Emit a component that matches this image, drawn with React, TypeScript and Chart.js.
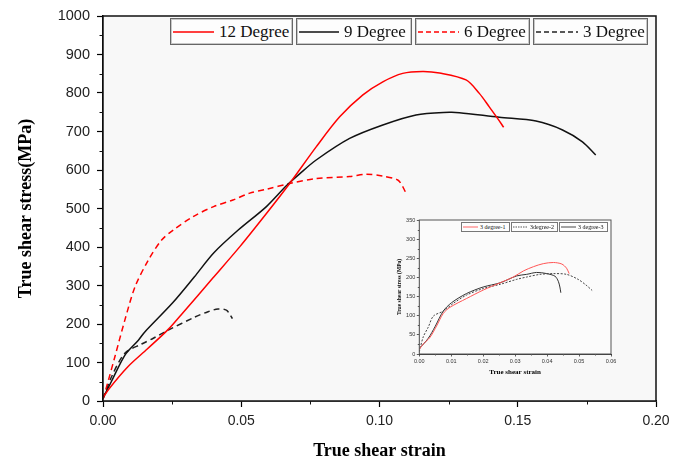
import React, { useEffect, useRef } from "react";
import { Chart, registerables } from "chart.js";

Chart.register(...registerables);

// ---------- main chart data ----------
const seriesNames = ["12 Degree", "9 Degree", "6 Degree", "3 Degree"];

const deg12Strain = [0, 0.002, 0.009, 0.016, 0.0236, 0.029, 0.0398, 0.0495, 0.0591, 0.0675, 0.0771, 0.0856, 0.094, 0.1012, 0.1084, 0.1156, 0.1217, 0.1313, 0.1361, 0.1397, 0.1427, 0.1449];
const deg12Stress = [8, 30, 89, 135, 186, 230, 320, 401, 487, 565, 660, 738, 795, 829, 851, 856, 852, 834, 799, 764, 734, 711];

const deg9Strain = [0, 0.003, 0.008, 0.0128, 0.0152, 0.0252, 0.033, 0.0401, 0.0489, 0.0591, 0.0663, 0.0711, 0.0771, 0.0892, 0.1012, 0.1132, 0.1253, 0.1289, 0.1433, 0.1566, 0.1662, 0.1734, 0.1782];
const deg9Stress = [8, 50, 120, 158, 180, 255, 322, 385, 444, 505, 559, 590, 626, 682, 717, 743, 750, 749, 737, 727, 704, 673, 639];

const deg6Strain = [0, 0.0013, 0.0043, 0.0079, 0.0116, 0.0164, 0.0212, 0.0254, 0.0326, 0.04, 0.047, 0.0531, 0.0591, 0.0675, 0.0771, 0.0892, 0.0952, 0.1012, 0.1066, 0.1084, 0.1096];
const deg6Stress = [5, 37, 115, 210, 297, 366, 418, 444, 479, 505, 522, 540, 550, 565, 578, 583, 589, 584, 574, 557, 539];

const deg3Strain = [0, 0.0031, 0.0079, 0.014, 0.0182, 0.0236, 0.0332, 0.038, 0.0416, 0.0446, 0.0458, 0.0468];
const deg3Stress = [5, 63, 124, 148, 163, 184, 218, 232, 239, 236, 226, 214];

// ---------- inset data ----------
const insetNames = ["3 degree-1", "3degree-2", "3 degree-3"];

const ins1Strain = [0, 0.00125, 0.0033, 0.0054, 0.0075, 0.0096, 0.0148, 0.02, 0.0253, 0.0294, 0.0326, 0.0357, 0.0388, 0.042, 0.0446, 0.0461, 0.0469];
const ins1Stress = [12, 26, 43, 73, 106, 122, 145, 167, 186, 201, 217, 228, 236, 239, 235, 224, 210];

const ins2Strain = [0, 0.00125, 0.0028, 0.0044, 0.0075, 0.0106, 0.0148, 0.02, 0.0253, 0.0305, 0.0336, 0.0378, 0.0419, 0.0461, 0.0497, 0.0522, 0.0541];
const ins2Stress = [6, 45, 70, 99, 112, 132, 154, 171, 182, 195, 201, 208, 210, 208, 195, 180, 166];

const ins3Strain = [0, 0.0028, 0.0049, 0.0075, 0.0101, 0.0148, 0.02, 0.0253, 0.0305, 0.0336, 0.0367, 0.0399, 0.0425, 0.0435, 0.044, 0.0443];
const ins3Stress = [14, 41, 71, 112, 134, 158, 175, 186, 204, 208, 213, 210, 203, 190, 175, 160];

const pts = (xs: number[], ys: number[]) => xs.map((x, i) => ({ x, y: ys[i] }));

const SANS = '"Liberation Sans", Arial, sans-serif';
const SERIF = '"Liberation Serif", "Times New Roman", serif';

function framePlugin(bg: string, frameColor: string, frameWidth: number, minorX: number, minorY: number, minorLen: number, majorX: number, majorY: number) {
  return {
    id: "frame",
    beforeDatasetsDraw(chart: any) {
      const { ctx, chartArea: a } = chart;
      ctx.save();
      ctx.fillStyle = bg;
      ctx.fillRect(a.left, a.top, a.right - a.left, a.bottom - a.top);
      ctx.restore();
    },
    afterDraw(chart: any) {
      const { ctx, chartArea: a, scales } = chart;
      ctx.save();
      ctx.strokeStyle = frameColor;
      ctx.lineWidth = frameWidth;
      ctx.strokeRect(a.left, a.top, a.right - a.left, a.bottom - a.top);
      ctx.lineWidth = 1;
      ctx.beginPath();
      const xs = scales.x;
      for (let v = minorX; v < xs.max; v += majorX) {
        const px = Math.round(xs.getPixelForValue(v)) + 0.5;
        ctx.moveTo(px, a.bottom);
        ctx.lineTo(px, a.bottom + minorLen);
      }
      const ys = scales.y;
      for (let v = minorY; v < ys.max; v += majorY) {
        const py = Math.round(ys.getPixelForValue(v)) + 0.5;
        ctx.moveTo(a.left, py);
        ctx.lineTo(a.left - minorLen, py);
      }
      ctx.stroke();
      ctx.restore();
    },
  };
}

function LegendLine({ color, dash, len, lw }: { color: string; dash?: string; len: number; lw: number }) {
  return (
    <svg width={len} height={6} style={{ display: "block", flex: "none" }}>
      <line x1={0} y1={3} x2={len} y2={3} stroke={color} strokeWidth={lw} strokeDasharray={dash} />
    </svg>
  );
}

export default function App() {
  const mainRef = useRef<HTMLCanvasElement | null>(null);
  const insetRef = useRef<HTMLCanvasElement | null>(null);

  useEffect(() => {
    const mainChart = new Chart(mainRef.current as HTMLCanvasElement, {
      type: "line",
      data: {
        datasets: [
          { label: seriesNames[0], data: pts(deg12Strain, deg12Stress), borderColor: "#ff0000", borderWidth: 1.5, pointRadius: 0, tension: 0.3, fill: false },
          { label: seriesNames[1], data: pts(deg9Strain, deg9Stress), borderColor: "#111111", borderWidth: 1.5, pointRadius: 0, tension: 0.3, fill: false },
          { label: seriesNames[2], data: pts(deg6Strain, deg6Stress), borderColor: "#ff0000", borderWidth: 1.5, borderDash: [6, 4], pointRadius: 0, tension: 0.3, fill: false },
          { label: seriesNames[3], data: pts(deg3Strain, deg3Stress), borderColor: "#222222", borderWidth: 1.5, borderDash: [6, 4], pointRadius: 0, tension: 0.3, fill: false },
        ],
      },
      options: {
        animation: false,
        responsive: false,
        layout: { padding: { top: 16, right: 30, left: 0, bottom: 0 } },
        plugins: { legend: { display: false }, tooltip: { enabled: false } },
        scales: {
          x: {
            type: "linear",
            min: 0,
            max: 0.2,
            ticks: {
              stepSize: 0.05,
              callback: (v: any) => Number(v).toFixed(2),
              font: { family: SANS, size: 14 },
              color: "#222",
              padding: 6,
              maxRotation: 0,
              autoSkip: false,
            },
            grid: { drawOnChartArea: false, tickLength: 6, color: "#000", tickWidth: 1.2 },
            border: { color: "#000", width: 1.5 },
            title: { display: true, text: "True shear strain", color: "#000", font: { family: SERIF, size: 18, weight: "bold" }, padding: { top: 0, bottom: 2 } },
            afterFit: (s: any) => { s.height = 63; },
          },
          y: {
            type: "linear",
            min: 0,
            max: 1000,
            ticks: {
              stepSize: 100,
              callback: (v: any) => String(Math.round(Number(v))),
              font: { family: SANS, size: 14.5 },
              color: "#222",
              padding: 7,
            },
            grid: { drawOnChartArea: false, tickLength: 6, color: "#000", tickWidth: 1.2 },
            border: { color: "#000", width: 1.5 },
            title: { display: true, text: "True shear stress(MPa)", color: "#000", font: { family: SERIF, size: 18, weight: "bold" }, padding: { top: 16, bottom: 0 } },
            afterFit: (s: any) => { s.width = 103; },
          },
        },
      } as any,
      plugins: [framePlugin("#f8f8f8", "#111", 1.5, 0.025, 50, 3.5, 0.05, 100)],
    });

    const insetChart = new Chart(insetRef.current as HTMLCanvasElement, {
      type: "line",
      data: {
        datasets: [
          { label: insetNames[0], data: pts(ins1Strain, ins1Stress), borderColor: "#ff5555", borderWidth: 1, pointRadius: 0, tension: 0.3, fill: false },
          { label: insetNames[1], data: pts(ins2Strain, ins2Stress), borderColor: "#444", borderWidth: 1, borderDash: [2, 1.5], pointRadius: 0, tension: 0.3, fill: false },
          { label: insetNames[2], data: pts(ins3Strain, ins3Stress), borderColor: "#333", borderWidth: 1, pointRadius: 0, tension: 0.3, fill: false },
        ],
      },
      options: {
        animation: false,
        responsive: false,
        layout: { padding: { top: 10, right: 14, left: 0, bottom: 0 } },
        plugins: { legend: { display: false }, tooltip: { enabled: false } },
        scales: {
          x: {
            type: "linear",
            min: 0,
            max: 0.06,
            ticks: {
              stepSize: 0.01,
              callback: (v: any) => Number(v).toFixed(2),
              font: { family: SANS, size: 5.5 },
              color: "#333",
              padding: 1.5,
              maxRotation: 0,
              autoSkip: false,
            },
            grid: { drawOnChartArea: false, tickLength: 2.5, color: "#333", tickWidth: 0.8 },
            border: { color: "#333", width: 1 },
            title: { display: true, text: "True shear strain", color: "#000", font: { family: SERIF, size: 7, weight: "bold" }, padding: { top: 0, bottom: 4 } },
            afterFit: (s: any) => { s.height = 26; },
          },
          y: {
            type: "linear",
            min: 0,
            max: 350,
            ticks: {
              stepSize: 50,
              font: { family: SANS, size: 5.5 },
              color: "#333",
              padding: 1.5,
            },
            grid: { drawOnChartArea: false, tickLength: 2.5, color: "#333", tickWidth: 0.8 },
            border: { color: "#333", width: 1 },
            title: { display: true, text: "True shear stress (MPa)", color: "#000", font: { family: SERIF, size: 5.5, weight: "bold" }, padding: { top: 1, bottom: 0 } },
            afterFit: (s: any) => { s.width = 24.3; },
          },
        },
      } as any,
      plugins: [framePlugin("#fbfbfb", "#555", 1, 0.005, 25, 1.5, 0.01, 50)],
    });

    return () => {
      mainChart.destroy();
      insetChart.destroy();
    };
  }, []);

  const mainLegend = [
    { left: 170, right: 293, color: "#ff0000", dash: undefined, lineLen: 41 },
    { left: 296, right: 412, color: "#111", dash: undefined, lineLen: 40 },
    { left: 415, right: 530, color: "#ff0000", dash: "5 3", lineLen: 41 },
    { left: 533, right: 648, color: "#222", dash: "5 3", lineLen: 42 },
  ];

  const insetLegend = [
    { left: 461, right: 510, color: "#ff5555", dash: undefined },
    { left: 511, right: 558, color: "#444", dash: "1.5 1" },
    { left: 559, right: 608, color: "#333", dash: undefined },
  ];

  return (
    <div style={{ position: "absolute", left: 0, top: 0, width: 686, height: 464, background: "#fff", overflow: "hidden" }}>
      <canvas ref={mainRef} width={686} height={464} style={{ position: "absolute", left: 0, top: 0, width: 686, height: 464 }} />
      <canvas ref={insetRef} width={230} height={170} style={{ position: "absolute", left: 395, top: 210, width: 230, height: 170 }} />
      {mainLegend.map((b, i) => (
        <div
          key={i}
          style={{
            position: "absolute",
            left: b.left,
            top: 18,
            width: b.right - b.left,
            height: 27,
            boxSizing: "border-box",
            border: "1px solid #666",
            boxShadow: "inset 0 0 0 1px #c8c8c8",
            background: "#fdfdfd",
            display: "flex",
            alignItems: "center",
            paddingLeft: 2,
          }}
        >
          <LegendLine color={b.color} dash={b.dash} len={b.lineLen} lw={1.5} />
          <span style={{ marginLeft: 5, fontFamily: SERIF, fontSize: 17, color: "#111", whiteSpace: "nowrap", lineHeight: "20px" }}>{seriesNames[i]}</span>
        </div>
      ))}
      {insetLegend.map((b, i) => (
        <div
          key={i}
          style={{
            position: "absolute",
            left: b.left,
            top: 222,
            width: b.right - b.left,
            height: 10,
            boxSizing: "border-box",
            border: "0.6px solid #777",
            background: "#fdfdfd",
            display: "flex",
            alignItems: "center",
            paddingLeft: 1,
          }}
        >
          <LegendLine color={b.color} dash={b.dash} len={15} lw={0.9} />
          <span style={{ marginLeft: 2, fontFamily: SERIF, fontSize: 6, color: "#111", whiteSpace: "nowrap", lineHeight: "8px" }}>{insetNames[i]}</span>
        </div>
      ))}
    </div>
  );
}
